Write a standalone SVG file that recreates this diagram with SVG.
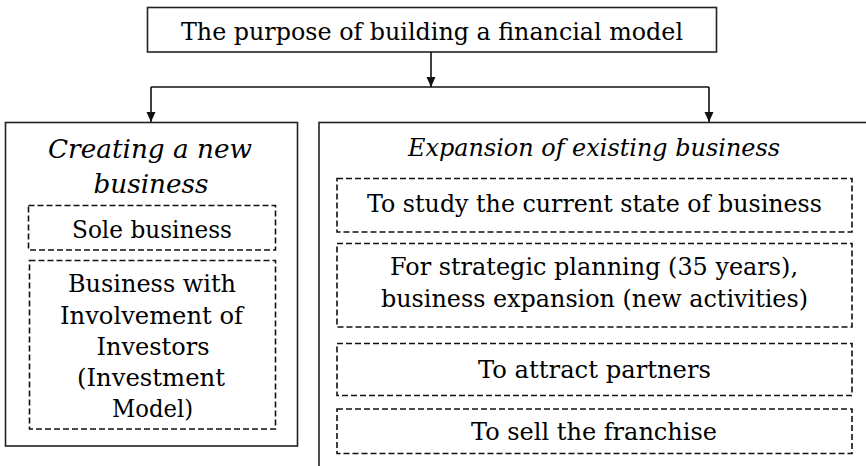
<svg xmlns="http://www.w3.org/2000/svg" width="866" height="466" viewBox="0 0 866 466">
<style>
  .box { fill: #fff; stroke: #222; stroke-width: 1.6; }
  .dash { fill: none; stroke: #111; stroke-width: 1.6; stroke-dasharray: 6 3; }
  .t { font-family: "DejaVu Serif", "Liberation Serif", serif; font-size: 25px; fill: #000; text-anchor: middle; }
  .ti { font-family: "DejaVu Serif", "Liberation Serif", serif; font-style: italic; fill: #000; text-anchor: middle; }
  .conn { fill: none; stroke: #111; stroke-width: 1.6; }
</style>
<defs>
  <marker id="arrow" markerUnits="userSpaceOnUse" markerWidth="10" markerHeight="10" refX="10" refY="4.5" orient="auto">
    <path d="M0,0 L10,4.5 L0,9 z" fill="#111"/>
  </marker>
</defs>
<rect width="866" height="466" fill="#fff"/>

<g id="connectors">
  <path class="conn" d="M431,52 V87" marker-end="url(#arrow)"/>
  <path class="conn" d="M151,87 H709"/>
  <path class="conn" d="M151,87 V122" marker-end="url(#arrow)"/>
  <path class="conn" d="M709,87 V122" marker-end="url(#arrow)"/>
</g>

<g id="root">
  <rect class="box" x="147.5" y="7.5" width="569" height="44.5"/>
  <text class="t" x="432" y="40" textLength="502" lengthAdjust="spacingAndGlyphs">The purpose of building a financial model</text>
</g>

<g id="new-business">
  <rect class="box" x="5.5" y="122.5" width="292" height="323.5"/>
  <text class="ti" x="150" y="158" font-size="26" textLength="204" lengthAdjust="spacingAndGlyphs">Creating a new</text>
  <text class="ti" x="151" y="193" font-size="26" textLength="115" lengthAdjust="spacingAndGlyphs">business</text>
</g>

<g id="sole-business">
  <rect class="dash" x="28.5" y="205.5" width="247" height="44.5"/>
  <text class="t" x="152" y="237.5" textLength="160" lengthAdjust="spacingAndGlyphs">Sole business</text>
</g>

<g id="investment-model">
  <rect class="dash" x="29.5" y="260.5" width="246" height="168.5"/>
  <text class="t" x="152" y="292" textLength="168" lengthAdjust="spacingAndGlyphs">Business with</text>
  <text class="t" x="151.5" y="323.5" textLength="183" lengthAdjust="spacingAndGlyphs">Involvement of</text>
  <text class="t" x="153" y="355" textLength="113" lengthAdjust="spacingAndGlyphs">Investors</text>
  <text class="t" x="151" y="386" textLength="148" lengthAdjust="spacingAndGlyphs">(Investment</text>
  <text class="t" x="152.5" y="417" textLength="81" lengthAdjust="spacingAndGlyphs">Model)</text>
</g>

<g id="existing-business">
  <rect class="box" x="319" y="122.5" width="600" height="400"/>
  <text class="ti" x="594" y="155.5" font-size="24" textLength="372" lengthAdjust="spacingAndGlyphs">Expansion of existing business</text>
</g>

<g id="current-state">
  <rect class="dash" x="337" y="178.5" width="515" height="53.5"/>
  <text class="t" x="594.5" y="212" textLength="455" lengthAdjust="spacingAndGlyphs">To study the current state of business</text>
</g>

<g id="strategic-planning">
  <rect class="dash" x="337" y="243.5" width="515" height="83.5"/>
  <text class="t" x="594" y="275" textLength="408" lengthAdjust="spacingAndGlyphs">For strategic planning (35 years),</text>
  <text class="t" x="594.5" y="307" textLength="427" lengthAdjust="spacingAndGlyphs">business expansion (new activities)</text>
</g>

<g id="attract-partners">
  <rect class="dash" x="337" y="343.5" width="515" height="52"/>
  <text class="t" x="594.5" y="378" textLength="233" lengthAdjust="spacingAndGlyphs">To attract partners</text>
</g>

<g id="sell-franchise">
  <rect class="dash" x="337" y="409" width="515" height="44.5"/>
  <text class="t" x="594" y="440" textLength="246" lengthAdjust="spacingAndGlyphs">To sell the franchise</text>
</g>
</svg>
